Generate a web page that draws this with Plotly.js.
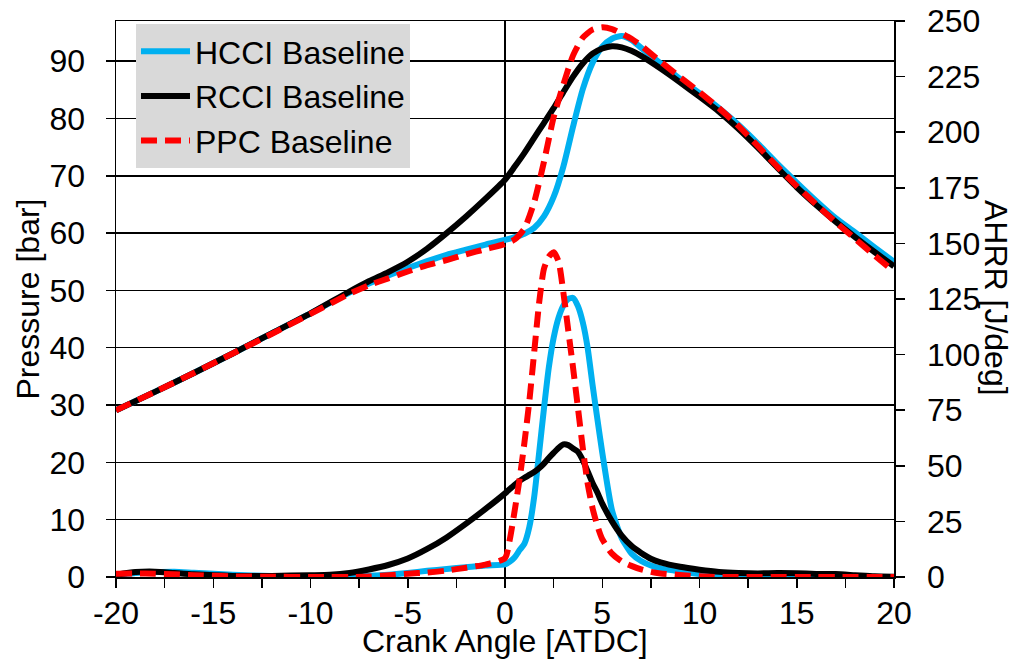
<!DOCTYPE html>
<html>
<head>
<meta charset="utf-8">
<script src="https://cdn.plot.ly/plotly-3.0.1.min.js"></script>
<style>html,body{margin:0;padding:0;background:#fff;}#chart{width:1019px;height:662px;}</style>
</head>
<body>
<div id="chart"></div>
<script>
// Crank angle grids [deg ATDC]
const anglePressure = [-20,-18,-16,-14,-12,-10,-8,-7,-6,-5,-4,-3,-2,-1,0,0.5,1,1.5,2,2.5,3,3.5,4,4.5,5,5.5,6,6.5,7,8,9,10,11,12,13,14,15,16,17,18,19,20];
const angleAHRR = [-20,-19,-18,-17,-16,-14,-12,-10,-9,-8,-7,-6,-5,-4,-3,-2,-1,0,0.25,0.5,0.75,1,1.25,1.5,1.75,2,2.25,2.5,2.75,3,3.25,3.5,3.75,4,4.25,4.5,4.75,5,5.5,6,6.5,7,7.5,8,9,10,11,12,13,14,15,16,17,18,19,20];

// Cylinder pressure [bar]
const pressureHCCI = [29.1,32.3,35.6,39.0,42.5,46.0,49.6,51.2,52.6,53.9,55.1,56.2,57.1,58.0,58.8,59.3,59.9,60.9,62.9,66.3,71.6,78.6,85.1,89.7,92.5,93.9,94.4,93.7,92.3,89.6,86.9,84.4,81.8,78.9,75.6,72.1,68.8,65.6,62.6,60.1,57.5,55.0];
const pressureRCCI = [29.1,32.3,35.6,39.0,42.5,46.0,49.8,51.6,53.2,55.0,57.3,60.0,62.9,66.0,69.3,71.6,74.0,76.6,79.2,81.8,84.6,87.3,89.6,91.3,92.2,92.6,92.4,91.8,90.9,88.7,86.3,83.8,81.2,78.2,74.9,71.4,68.0,64.9,62.0,59.3,56.7,54.2];
const pressurePPC  = [29.1,32.3,35.6,39.0,42.4,45.9,49.4,50.9,52.1,53.3,54.4,55.3,56.3,57.2,58.1,58.9,60.8,65.4,72.4,80.2,85.9,91.0,94.1,95.5,95.9,95.6,94.8,93.9,92.7,89.9,87.2,84.6,81.8,78.7,75.2,71.6,68.2,65.0,61.9,59.0,56.1,53.3];

// Apparent heat release rate [J/deg]
const ahrrHCCI = [1.0,1.8,2.2,2.4,1.9,1.0,0.5,0.3,0.3,0.4,0.6,1.0,1.8,2.8,3.6,4.4,5.2,5.7,6.9,8.9,12.1,15.0,22.4,36.0,55.5,75.5,94.0,107.5,116.5,122.0,125.0,125.5,121.8,114.5,103.0,86.5,71.0,56.0,30.0,17.5,10.6,7.2,5.2,3.9,2.5,1.4,0.8,0.5,0.3,0.2,0.1,0.1,0.0,0.0,0.0,0.0];
const ahrrRCCI = [1.0,2.2,2.4,1.8,1.2,0.5,0.5,0.8,1.0,1.8,3.4,5.4,8.3,12.6,17.8,24.0,30.6,37.6,39.6,41.5,43.2,44.6,45.9,47.2,48.9,51.0,53.5,55.8,58.0,59.6,59.3,57.8,56.3,52.5,47.5,42.3,38.0,33.0,25.0,18.6,14.0,10.8,8.2,6.6,4.6,3.3,2.3,1.8,1.6,1.8,1.7,1.4,1.3,0.8,0.3,0.1];
const ahrrPPC  = [1.5,1.6,1.5,1.2,0.8,0.3,0.1,0.0,0.0,0.0,0.2,0.8,1.5,2.0,2.9,4.2,5.6,8.5,17.0,30.0,44.0,60.5,79.0,101.0,123.0,138.5,144.0,146.0,142.0,128.0,111.0,94.0,76.0,58.0,42.0,31.0,23.0,17.0,10.5,7.0,5.0,3.4,2.3,1.6,0.9,0.3,0.0,0.0,0.0,0.0,0.0,0.0,0.0,0.0,0.0,0.0];

// Tick labels
const xTickValues = [-20,-15,-10,-5,0,5,10,15,20];
const xTickLabels = ['-20','-15','-10','-5','0','5','10','15','20'];

const seriesNames = ['HCCI Baseline','RCCI Baseline','PPC Baseline'];
const seriesColors = ['#00b0f0','#000000','#ff0000'];
const seriesDash = ['solid','solid','16px,8px'];
const pressureSets = [pressureHCCI, pressureRCCI, pressurePPC];
const ahrrSets = [ahrrHCCI, ahrrRCCI, ahrrPPC];

const traces = [];
for (let i = 0; i < 3; i++) {
  traces.push({
    x: anglePressure, y: pressureSets[i], type: 'scatter', mode: 'lines',
    name: seriesNames[i], legendgroup: 'g' + i, yaxis: 'y',
    line: {color: seriesColors[i], width: 6, dash: seriesDash[i], shape: 'spline', smoothing: 0.6},
    hoverinfo: 'x+y'
  });
}
for (let i = 0; i < 3; i++) {
  traces.push({
    x: angleAHRR, y: ahrrSets[i], type: 'scatter', mode: 'lines',
    name: seriesNames[i], legendgroup: 'g' + i, showlegend: false, yaxis: 'y2',
    line: {color: seriesColors[i], width: 6, dash: seriesDash[i], shape: 'spline', smoothing: 0.6},
    hoverinfo: 'x+y'
  });
}

const fontFam = '"Liberation Sans", Arial, sans-serif';
const layout = {
  width: 1019, height: 662,
  margin: {l: 116, r: 125, t: 21, b: 85, pad: 0},
  paper_bgcolor: '#ffffff', plot_bgcolor: '#ffffff',
  font: {family: fontFam, size: 32, color: '#000'},
  showlegend: true,
  legend: {
    x: 0.0257, y: 0.9946, xanchor: 'left', yanchor: 'top',
    bgcolor: '#d9d9d9', borderwidth: 0,
    font: {family: fontFam, size: 32, color: '#000'},
    traceorder: 'normal', tracegroupgap: 0, itemwidth: 49
  },
  xaxis: {
    range: [-20, 20], tickmode: 'array', tickvals: xTickValues, ticktext: xTickLabels,
    ticks: 'outside', ticklen: 9, tickwidth: 1.5, tickcolor: '#000',
    minor: {tickmode: 'linear', tick0: -20, dtick: 2.5, ticks: 'outside', ticklen: 9, tickwidth: 1.5, tickcolor: '#000', showgrid: false},
    showline: true, linecolor: '#000', linewidth: 1.5, mirror: true,
    showgrid: false, zeroline: true, zerolinecolor: '#000', zerolinewidth: 1.5,
    tickfont: {size: 32}, ticklabelstandoff: -2,
    automargin: false, fixedrange: true
  },
  yaxis: {
    range: [0, 97], tick0: 0, dtick: 10,
    ticks: 'outside', ticklen: 9, tickwidth: 1.5, tickcolor: '#000',
    showline: true, linecolor: '#000', linewidth: 1.5,
    showgrid: true, gridcolor: '#000', gridwidth: 1.5, zeroline: false,
    tickfont: {size: 32}, ticklabelstandoff: 14,
    title: {text: 'Pressure [bar]', font: {size: 32}, standoff: 0},
    automargin: false, fixedrange: true
  },
  yaxis2: {
    range: [0, 250], tick0: 0, dtick: 25, overlaying: 'y', side: 'right',
    ticks: 'outside', ticklen: 9, tickwidth: 1.5, tickcolor: '#000',
    showline: true, linecolor: '#000', linewidth: 1.5,
    showgrid: false, zeroline: false,
    tickfont: {size: 32}, ticklabelstandoff: 16,
    automargin: false, fixedrange: true
  },
  annotations: [{
    text: 'Crank Angle [ATDC]', xref: 'paper', yref: 'paper',
    x: 0.5, y: -0.1151, xanchor: 'center', yanchor: 'middle',
    showarrow: false, font: {family: fontFam, size: 32, color: '#000'}
  }, {
    text: 'AHRR [J/deg]', xref: 'paper', yref: 'paper',
    x: 1.131, y: 0.502, xanchor: 'center', yanchor: 'middle',
    textangle: 90, showarrow: false, font: {family: fontFam, size: 32, color: '#000'}
  }]
};

Plotly.newPlot('chart', traces, layout, {displayModeBar: false, staticPlot: true});
</script>
</body>
</html>
